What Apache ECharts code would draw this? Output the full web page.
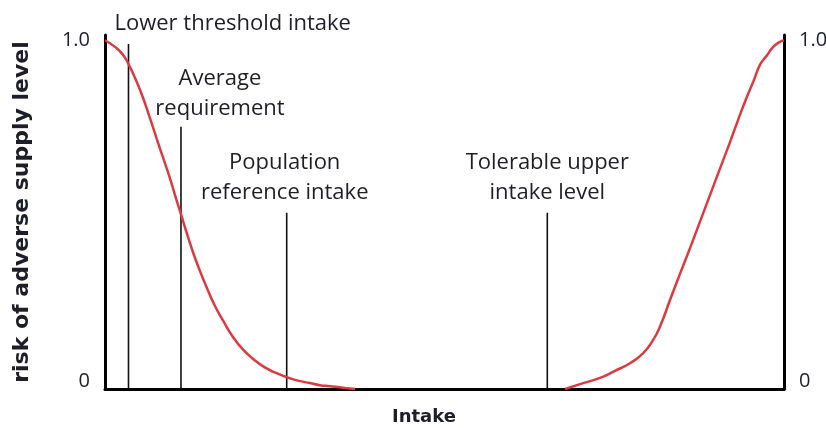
<!DOCTYPE html>
<html>
<head>
<meta charset="utf-8">
<script src="https://cdn.jsdelivr.net/npm/echarts@6/dist/echarts.min.js"></script>
<style>html,body{margin:0;padding:0;background:#fff;}#c{width:826px;height:428px;}</style>
</head>
<body>
<div id="c"></div>
<script>
// Risk curve (x = intake on a 0..100 scale, y = risk 0..1)
const curveX = [0, 1.47, 2.70, 3.68, 4.67, 5.64, 6.63, 7.61, 8.59, 9.57, 10.56, 11.30, 12.03, 13.00, 13.99, 14.98, 16.20, 17.42, 18.85, 20.37, 22.09, 23.81, 25.18, 26.76, 28.42, 30.19, 31.66, 33.14, 35.35, 36.82,
                50,
                67.75, 69.96, 72.90, 75.11, 77.32, 79.23, 80.71, 81.74, 83.21, 84.68, 86.16, 87.63, 89.10, 90.57, 92.05, 93.23, 94.40, 95.58, 96.47, 97.50, 98.38, 99.26, 100];
const curveY = [1.0, 0.981, 0.957, 0.923, 0.881, 0.833, 0.776, 0.718, 0.661, 0.604, 0.540, 0.494, 0.448, 0.390, 0.338, 0.291, 0.238, 0.195, 0.149, 0.112, 0.082, 0.059, 0.046, 0.034, 0.024, 0.017, 0.011, 0.008, 0.003, 0,
                null,
                0, 0.014, 0.032, 0.052, 0.074, 0.102, 0.140, 0.179, 0.255, 0.330, 0.404, 0.480, 0.556, 0.632, 0.708, 0.771, 0.831, 0.886, 0.930, 0.957, 0.980, 0.994, 1.0];

// Reference markers
const markerNames = ['Lower threshold intake', 'Average\nrequirement', 'Population\nreference intake', 'Tolerable upper\nintake level'];
const markerX = [3.46, 11.19, 26.76, 65.14];
const markerTop = [0.989, 0.752, 0.505, 0.505];

// Axis ticks
const yTicks = [0, 1];
const yTickLabels = ['0', '1.0'];

const FONT = 'Open Sans';
const TXT = '#1e1e28';

const labelCfg = [
  {align: 'left', offset: [-14, 0], distance: 5},
  {align: 'center', offset: [39, 0], distance: 3},
  {align: 'center', offset: [-2, 0], distance: 5},
  {align: 'center', offset: [0, 0], distance: 5}
];

const markerSeries = markerNames.map((name, i) => ({
  type: 'line',
  name: name,
  silent: true,
  symbol: 'none',
  z: 1,
  lineStyle: {color: '#111', width: 1.6},
  data: [
    [markerX[i], 0],
    {value: [markerX[i], markerTop[i]], symbol: 'circle', symbolSize: 0.01,
     label: {show: true, position: 'top', formatter: name, align: labelCfg[i].align,
       offset: labelCfg[i].offset, distance: labelCfg[i].distance,
       fontFamily: FONT, fontSize: 22, lineHeight: 30, color: TXT}}
  ]
}));

function tickFmt(v) {
  for (let i = 0; i < yTicks.length; i++) {
    if (Math.abs(v - yTicks[i]) < 1e-9) return i === 0 ? '{z|' + yTickLabels[i] + '}' : yTickLabels[i];
  }
  return '';
}

const yAxisBase = {
  type: 'value', min: 0, max: 1.015, interval: 1,
  splitLine: {show: false}, axisTick: {show: false},
  axisLine: {show: true, lineStyle: {color: '#000', width: 3}},
  axisLabel: {formatter: tickFmt, margin: 15, fontFamily: FONT, fontSize: 20, color: TXT,
    rich: {z: {fontFamily: FONT, fontSize: 20, color: TXT, padding: [0, 0, 16, 0]}}}
};

const chart = echarts.init(document.getElementById('c'));
chart.setOption({
  animation: false,
  backgroundColor: '#fff',
  title: {text: 'Intake', left: 387, top: 403,
    textStyle: {fontFamily: 'DejaVu Sans', fontSize: 18, fontWeight: 'bold', color: TXT}},
  grid: {left: 105, right: 42, top: 35, bottom: 39, containLabel: false, outerBoundsMode: 'none'},
  xAxis: {type: 'value', min: 0, max: 100,
    splitLine: {show: false}, axisTick: {show: false}, axisLabel: {show: false},
    axisLine: {show: true, onZero: false, lineStyle: {color: '#000', width: 3}}},
  yAxis: [
    Object.assign({}, yAxisBase, {position: 'left', name: 'risk of adverse supply level',
      nameLocation: 'middle', nameGap: 72,
      nameTextStyle: {fontFamily: 'DejaVu Sans', fontSize: 22, fontWeight: 'bold', color: TXT}}),
    Object.assign({}, yAxisBase, {position: 'right'})
  ],
  series: [
    {
      type: 'line', name: 'risk', silent: true, symbol: 'none', z: 3,
      smooth: 0.5, connectNulls: false,
      lineStyle: {color: '#dc3a40', width: 2.5},
      data: curveX.map((x, i) => [x, curveY[i] === null ? '-' : curveY[i]])
    }
  ].concat(markerSeries)
});
</script>
</body>
</html>
